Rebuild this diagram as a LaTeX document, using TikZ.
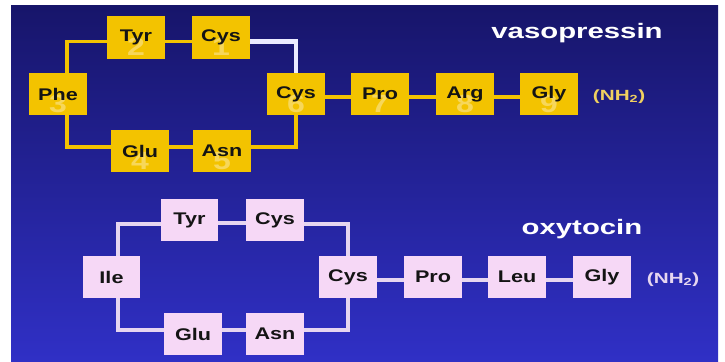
\documentclass[tikz,border=0pt]{standalone}
\usepackage{fontspec}
\usepackage{tikz}
\usetikzlibrary{calc,positioning}
\newfontfamily\boxsans[FakeStretch=1.28]{Liberation Sans}
\newfontfamily\widesans[FakeStretch=1.4]{Liberation Sans}
\definecolor{bgtop}{HTML}{17156A}
\definecolor{bgbot}{HTML}{3030C6}
\definecolor{vyellow}{HTML}{F3C300}
\definecolor{numyellow}{HTML}{F7D75A}
\definecolor{opink}{HTML}{F6D8F6}
\definecolor{olinecol}{HTML}{E6D6F0}
\definecolor{boxtext}{HTML}{141414}
\definecolor{vnhcol}{HTML}{F0D060}
\tikzset{
    vbox/.style={fill=vyellow, minimum width=1.43cm, minimum height=1.05cm, inner sep=0pt,
        text=boxtext, font=\boxsans\bfseries\fontsize{12pt}{12pt}\selectfont},
    obox/.style={vbox, fill=opink},
    seqno/.style={path picture={\node[text=numyellow, font=\boxsans\bfseries\fontsize{17.8pt}{18pt}\selectfont]
        at ([yshift=-0.24cm]path picture bounding box.center) {#1};}},
    vline/.style={draw=vyellow, line width=0.095cm},
    oline/.style={draw=olinecol, line width=0.095cm},
    ssbond/.style={draw=white!92!blue, line width=0.105cm},
    title/.style={text=white, anchor=base, font=\widesans\bfseries\fontsize{14.9pt}{15pt}\selectfont},
    nhtext/.style={anchor=base west, font=\widesans\bfseries\fontsize{10.5pt}{11pt}\selectfont}
}
\begin{document}
\begin{tikzpicture}[x=0.025cm,y=-0.025cm]
    \useasboundingbox (0,0) rectangle (725,362);
    \fill[white] (0,0) rectangle (725,362);
    \shade[top color=bgtop, bottom color=bgbot] (11,5) rectangle (718,362);
    % vasopressin
        \node[vbox, seqno=3] (phe) at (58,94) {Phe};
        \node[vbox, seqno=2] (tyra) at (136,37.5) {Tyr};
        \node[vbox, seqno=1] (cysa) at (221,37.5) {Cys};
        \node[vbox, seqno=6] (cysb) at (296,94) {Cys};
        \node[vbox, seqno=4] (glua) at (140,151) {Glu};
        \node[vbox, seqno=5] (asna) at (222,151) {Asn};
        \node[vbox, seqno=7] (proa) at (380,94) {Pro};
        \node[vbox, seqno=8] (arg) at (465,94) {Arg};
        \node[vbox, seqno=9] (glya) at (549,94) {Gly};
        \draw[vline] ($(phe.north)+(9,0)$) |- ($(tyra.west)+(0,4)$);
        \draw[vline] ($(tyra.east)+(0,4)$) -- ($(cysa.west)+(0,4)$);
        \draw[ssbond] ($(cysa.east)+(0,4)$) -| (cysb.north);
        \draw[vline] (cysb.south) |- ($(asna.east)+(0,-4)$);
        \draw[vline] ($(asna.west)+(0,-4)$) -- ($(glua.east)+(0,-4)$);
        \draw[vline] ($(glua.west)+(0,-4)$) -| ($(phe.south)+(9,0)$);
        \foreach \a/\b in {cysb/proa, proa/arg, arg/glya}
            \draw[vline] ($(\a.east)+(0,3)$) -- ($(\b.west)+(0,3)$);
        \node[title] (vtitle) at (577,38) {vasopressin};
        \node[nhtext, text=vnhcol] (vnh) at (588,100) {(NH\textsubscript{2})};
    % oxytocin
        \node[obox] (ile) at (111.5,277) {Ile};
        \node[obox] (tyrb) at (189.5,220) {Tyr};
        \node[obox] (cysc) at (275,220) {Cys};
        \node[obox] (cysd) at (348,277) {Cys};
        \node[obox] (glub) at (193,334) {Glu};
        \node[obox] (asnb) at (275,334) {Asn};
        \node[obox] (prob) at (433,277) {Pro};
        \node[obox] (leu) at (517,277) {Leu};
        \node[obox] (glyb) at (602,277) {Gly};
        \draw[oline] ($(ile.north)+(6.5,0)$) |- ($(tyrb.west)+(0,4)$);
        \draw[oline] ($(tyrb.east)+(0,3)$) -- ($(cysc.west)+(0,3)$);
        \draw[oline] ($(cysc.east)+(0,4)$) -| (cysd.north);
        \draw[oline] (cysd.south) |- ($(asnb.east)+(0,-4)$);
        \draw[oline] ($(asnb.west)+(0,-4)$) -- ($(glub.east)+(0,-4)$);
        \draw[oline] ($(glub.west)+(0,-4)$) -| ($(ile.south)+(6.5,0)$);
        \foreach \a/\b in {cysd/prob, prob/leu, leu/glyb}
            \draw[oline] ($(\a.east)+(0,3)$) -- ($(\b.west)+(0,3)$);
        \node[title] (otitle) at (582,234) {oxytocin};
        \node[nhtext, text=olinecol] (onh) at (642,283) {(NH\textsubscript{2})};
\end{tikzpicture}
\end{document}
